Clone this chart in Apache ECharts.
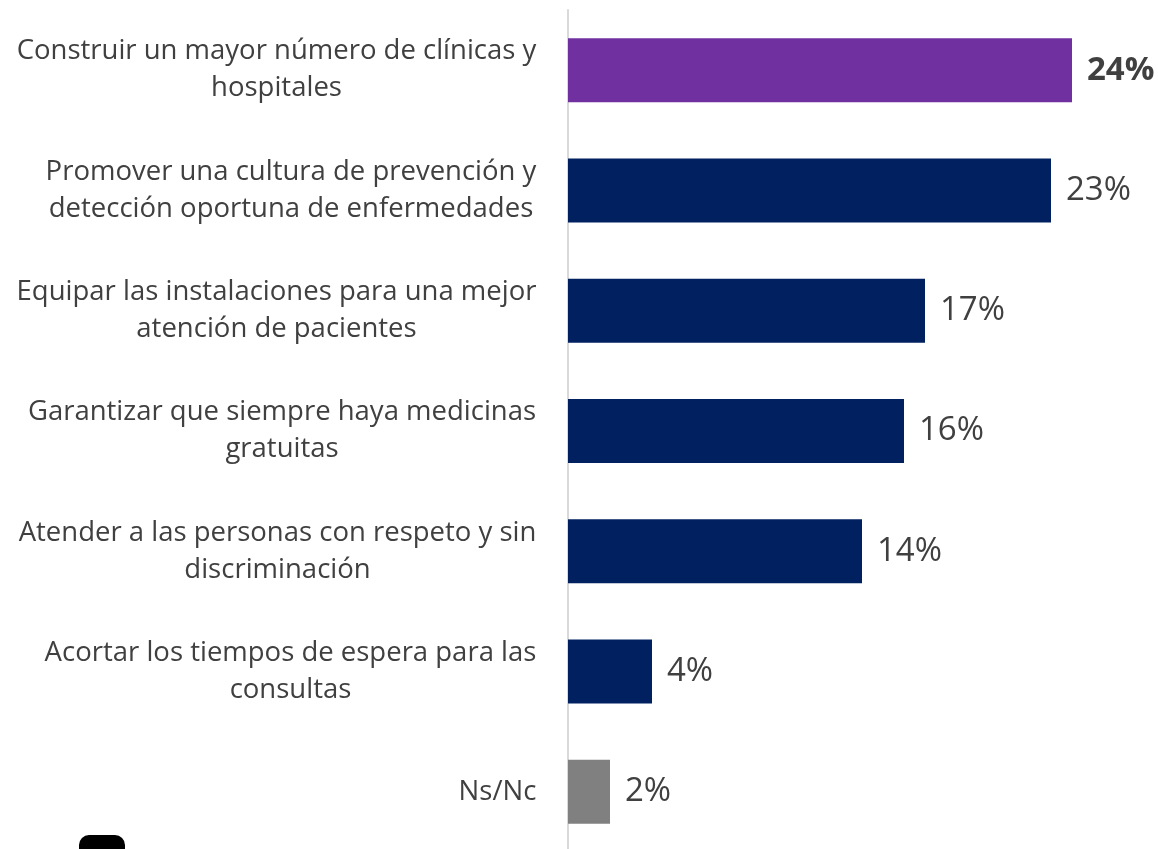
<!DOCTYPE html>
<html>
<head>
<meta charset="utf-8">
<script src="https://cdn.jsdelivr.net/npm/echarts@6/dist/echarts.min.js"></script>
<style>
  html, body { margin: 0; padding: 0; background: #fff; }
  #chart { width: 1158px; height: 849px; }
</style>
</head>
<body>
<div id="chart"></div>
<script>
// categorías (de arriba a abajo)
var categories = [
  'Construir un mayor número de clínicas y\nhospitales',
  'Promover una cultura de prevención y\ndetección oportuna de enfermedades',
  'Equipar las instalaciones para una mejor\natención de pacientes',
  'Garantizar que siempre haya medicinas\ngratuitas',
  'Atender a las personas con respeto y sin\ndiscriminación',
  'Acortar los tiempos de espera para las\nconsultas',
  'Ns/Nc'
];
var values = [24, 23, 17, 16, 14, 4, 2];
var barColors = ['#7030a0', '#002060', '#002060', '#002060', '#002060', '#002060', '#808080'];

var labelFont = 27.5;
var labelFamily = 'Open Sans';

// medir cada etiqueta para centrar las líneas dentro de su bloque
var ctx = document.createElement('canvas').getContext('2d');
ctx.font = labelFont + 'px "' + labelFamily + '"';
var rich = {};
categories.forEach(function (c, i) {
  var w = Math.max.apply(null, c.split('\n').map(function (l) { return ctx.measureText(l).width; }));
  rich['c' + i] = { width: Math.ceil(w) + 1, align: 'center', fontSize: labelFont, lineHeight: 37, color: '#404040' };
});

var chart = echarts.init(document.getElementById('chart'));

var seriesData = values.map(function (v, i) {
  var item = { value: v, itemStyle: { color: barColors[i] } };
  if (i === 0) item.label = { fontWeight: 'bold' };
  return item;
});

chart.setOption({
  animation: false,
  textStyle: { fontFamily: labelFamily },
  grid: { left: 568, right: 23, top: 10, height: 842, containLabel: false, outerBoundsMode: 'none' },
  xAxis: {
    type: 'value',
    min: 0,
    max: 27,
    show: false
  },
  yAxis: {
    type: 'category',
    inverse: true,
    data: categories,
    axisTick: { show: false },
    axisLine: { show: true, lineStyle: { color: '#d9d9d9', width: 2 } },
    axisLabel: {
      margin: 31,
      fontSize: labelFont,
      lineHeight: 37,
      color: '#404040',
      align: 'right',
      formatter: function (value, idx) {
        return value.split('\n').map(function (l) { return '{c' + idx + '|' + l + '}'; }).join('\n');
      },
      rich: rich
    }
  },
  series: [{
    type: 'bar',
    data: seriesData,
    barWidth: 64,
    label: {
      show: true,
      position: 'right',
      distance: 15,
      fontSize: 33,
      color: '#404040',
      formatter: '{c}%'
    }
  }],
  graphic: [{
    type: 'rect',
    shape: { x: 79, y: 835, width: 46, height: 20, r: [10, 10, 0, 0] },
    style: { fill: '#000' }
  }]
});
</script>
</body>
</html>
